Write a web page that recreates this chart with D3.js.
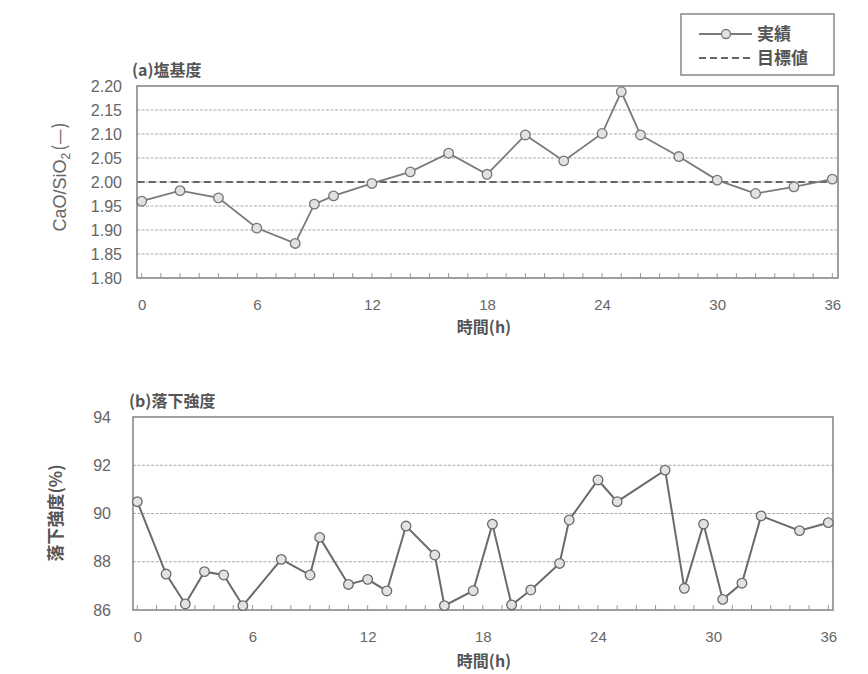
<!DOCTYPE html>
<html><head><meta charset="utf-8">
<script src="https://cdn.jsdelivr.net/npm/d3@7/dist/d3.min.js"></script>
<style>body{margin:0;background:#fff}text{font-family:"Liberation Sans",Arial,sans-serif}</style>
</head><body><svg id="c" width="868" height="674"></svg>
<script>
const hoursA = [0,2,4,6,8,9,10,12,14,16,18,20,22,24,25,26,28,30,32,34,36];
const basicity = [1.96,1.982,1.967,1.904,1.872,1.954,1.971,1.997,2.021,2.060,2.016,2.098,2.044,2.101,2.188,2.098,2.053,2.004,1.976,1.990,2.006];
const target = 2.00;
const hoursB = [0,1.5,2.5,3.5,4.5,5.5,7.5,9,9.5,11,12,13,14,15.5,16,17.5,18.5,19.5,20.5,22,22.5,24,25,27.5,28.5,29.5,30.5,31.5,32.5,34.5,36];
const strength = [90.49,87.49,86.25,87.59,87.45,86.18,88.10,87.45,89.01,87.06,87.27,86.79,89.48,88.28,86.18,86.80,89.56,86.21,86.83,87.93,89.73,91.39,90.49,91.80,86.90,89.56,86.44,87.11,89.90,89.29,89.62];
const xTicks = [0,6,12,18,24,30,36];
const yTicksA = [1.80,1.85,1.90,1.95,2.00,2.05,2.10,2.15,2.20];
const yTicksB = [86,88,90,92,94];

const svg = d3.select("#c");
const TXT = "#666", LINE = "#7a7a7a", JP = "'Noto Sans CJK JP',sans-serif";

function panel(o){
  const g = svg.append("g");
  const x = d3.scaleLinear().domain([0,36]).range([o.x0,o.x1]);
  const y = d3.scaleLinear().domain(o.yd).range([o.fb,o.ft]);
  g.selectAll(".gr").data(o.yt.slice(1,-1)).join("line")
    .attr("x1",o.fl).attr("x2",o.fr).attr("y1",d=>y(d)).attr("y2",d=>y(d))
    .attr("stroke","#aaa").attr("stroke-width",1).attr("stroke-dasharray","3,1.5");
  g.selectAll(".mt").data(d3.range(0,37,1)).join("line")
    .attr("x1",d=>x(d)).attr("x2",d=>x(d)).attr("y1",o.fb).attr("y2",o.fb-5)
    .attr("stroke","#999").attr("stroke-width",1);
  g.append("rect").attr("x",o.fl).attr("y",o.ft).attr("width",o.fr-o.fl).attr("height",o.fb-o.ft)
    .attr("fill","none").attr("stroke","#888").attr("stroke-width",1.6);
  const xa = g.append("g").attr("transform",`translate(0,${o.fb})`)
    .call(d3.axisBottom(x).tickValues(xTicks).tickSize(0).tickPadding(o.xpad));
  xa.select(".domain").remove();
  xa.selectAll("text").attr("fill",TXT).style("font-size","15px");
  const ya = g.append("g").attr("transform",`translate(${o.fl},0)`)
    .call(d3.axisLeft(y).tickValues(o.yt).tickSize(0).tickPadding(o.ypad).tickFormat(o.fmt));
  ya.select(".domain").remove();
  ya.selectAll("text").attr("fill",TXT).style("font-size","16px");
  return {g,x,y};
}

// Panel A
const A = panel({x0:141.7,x1:832.3,fl:137,fr:838,ft:86,fb:278,yd:[1.80,2.20],yt:yTicksA,fmt:d3.format(".2f"),xpad:21,ypad:15});
A.g.append("line").attr("x1",A.x(0)-4).attr("x2",A.x(36)).attr("y1",A.y(target)).attr("y2",A.y(target))
  .attr("stroke","#666").attr("stroke-width",2).attr("stroke-dasharray","7,4");
A.g.append("path").datum(hoursA.map((h,i)=>[h,basicity[i]]))
  .attr("d",d3.line().x(d=>A.x(d[0])).y(d=>A.y(d[1]))).attr("fill","none").attr("stroke",LINE).attr("stroke-width",1.8);
A.g.selectAll(".pt").data(hoursA.map((h,i)=>[h,basicity[i]])).join("circle")
  .attr("cx",d=>A.x(d[0])).attr("cy",d=>A.y(d[1])).attr("r",4.8)
  .attr("fill","#e2e2e2").attr("stroke","#777").attr("stroke-width",1.3);
svg.append("text").attr("x",132).attr("y",76).attr("fill","#555").style("font-size","16px").style("font-weight","bold")
  .style("font-family",JP).text("(a)塩基度");
const yl = svg.append("text").attr("transform","translate(66,177) rotate(-90)").attr("text-anchor","middle")
  .attr("fill",TXT).style("font-size","18px");
yl.append("tspan").text("CaO/SiO");
yl.append("tspan").attr("dy",4).style("font-size","12px").text("2");
yl.append("tspan").attr("dy",-4).attr("dx",2).style("font-family",JP).text("(—)");
svg.append("text").attr("x",484).attr("y",333).attr("text-anchor","middle").attr("fill","#555")
  .style("font-size","16px").style("font-weight","bold").style("font-family",JP).text("時間(h)");

// Panel B
const B = panel({x0:137.3,x1:828.3,fl:133,fr:833,ft:417,fb:610,yd:[86,94],yt:yTicksB,fmt:d3.format("d"),xpad:21,ypad:22});
B.g.append("path").datum(hoursB.map((h,i)=>[h,strength[i]]))
  .attr("d",d3.line().x(d=>B.x(d[0])).y(d=>B.y(d[1]))).attr("fill","none").attr("stroke","#6a6a6a").attr("stroke-width",2);
B.g.selectAll(".pt").data(hoursB.map((h,i)=>[h,strength[i]])).join("circle")
  .attr("cx",d=>B.x(d[0])).attr("cy",d=>B.y(d[1])).attr("r",4.8)
  .attr("fill","#e2e2e2").attr("stroke","#6a6a6a").attr("stroke-width",1.3);
svg.append("text").attr("x",129).attr("y",407).attr("fill","#555").style("font-size","16px").style("font-weight","bold")
  .style("font-family",JP).text("(b)落下強度");
svg.append("text").attr("transform","translate(62,513) rotate(-90)").attr("text-anchor","middle")
  .attr("fill","#555").style("font-size","17px").style("font-weight","bold").style("font-family",JP).text("落下強度(%)");
svg.append("text").attr("x",484).attr("y",667).attr("text-anchor","middle").attr("fill","#555")
  .style("font-size","16px").style("font-weight","bold").style("font-family",JP).text("時間(h)");

// Legend
const L = svg.append("g");
L.append("rect").attr("x",681).attr("y",14).attr("width",153).attr("height",61).attr("fill","#fff").attr("stroke","#888").attr("stroke-width",1.5);
L.append("line").attr("x1",699).attr("x2",752).attr("y1",34).attr("y2",34).attr("stroke",LINE).attr("stroke-width",1.8);
L.append("circle").attr("cx",726).attr("cy",34).attr("r",4.5).attr("fill","#e2e2e2").attr("stroke","#777").attr("stroke-width",1.3);
L.append("line").attr("x1",699).attr("x2",752).attr("y1",58).attr("y2",58).attr("stroke","#666").attr("stroke-width",2).attr("stroke-dasharray","7,4");
L.append("text").attr("x",757).attr("y",40).attr("fill","#555").style("font-size","17px").style("font-weight","bold").style("font-family",JP).text("実績");
L.append("text").attr("x",757).attr("y",64).attr("fill","#555").style("font-size","17px").style("font-weight","bold").style("font-family",JP).text("目標値");
</script></body></html>
